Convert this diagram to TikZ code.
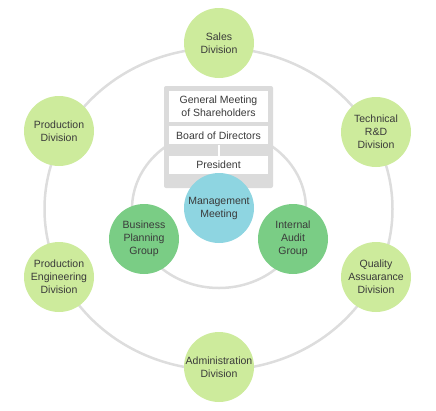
\documentclass[tikz,border=0pt]{standalone}
\usepackage{fontspec}
\setmainfont{Liberation Sans}
\usetikzlibrary{positioning}
\definecolor{divgreen}{HTML}{CDEB9C}
\definecolor{groupgreen}{HTML}{7ACD85}
\definecolor{meetblue}{HTML}{8ED5E1}
\definecolor{panelgray}{HTML}{DBDBDB}
\definecolor{ringgray}{HTML}{DDDDDD}
\definecolor{ink}{HTML}{3A3A3A}

\begin{document}
\begin{tikzpicture}[x=1pt, y=-1pt, node distance=4pt,
	unit/.style = {circle, minimum size=70pt, inner sep=0pt, align=center, text=ink, font=\fontsize{10.5}{13}\selectfont},
	division/.style = {unit, fill=divgreen},
	group/.style = {unit, fill=groupgreen},
	meeting/.style = {unit, fill=meetblue},
	organ/.style = {fill=white, minimum width=99pt, inner sep=0pt, align=center, text=ink, font=\fontsize{10.5}{13}\selectfont},
	ring/.style = {draw=ringgray, line width=2.5pt}]
			\useasboundingbox (0,0) rectangle (436,410);
			% rings
			\draw[ring] (218.5,209) ellipse [x radius=174pt, y radius=161pt];
			\draw[ring] (219,209) ellipse [x radius=87pt, y radius=79pt];
			% governance panel
			\node[fill=panelgray, minimum width=109pt, minimum height=102pt, inner sep=0pt, rounded corners=2pt] (panel) at (218.5,137) {};
			\node[organ, minimum height=31pt] (gm) at (218.5,106.5) {General Meeting\\of Shareholders};
			\node[organ, minimum height=18pt, below=of gm] (board) {Board of Directors};
			\node[organ, minimum height=18pt, below=11pt of board] (pres) {President};
			\draw[white, line width=2pt] (board) -- (pres);
			% divisions
			\node[division] (sales) at (219,43) {Sales\\Division};
			\node[division] (prod) at (59,131) {Production\\Division};
			\node[division] (tech) at (376,132) {Technical\\R\&D\\Division};
			\node[division] (prodeng) at (59,277) {Production\\Engineering\\Division};
			\node[division] (quality) at (376,277) {Quality\\Assuarance\\Division};
			\node[division] (admin) at (219,367) {Administration\\Division};
			% groups
			\node[group] (planning) at (144,239) {Business\\Planning\\Group};
			\node[group] (audit) at (293,239) {Internal\\Audit\\Group};
			\node[meeting] (mgmt) at (219,208) {Management\\Meeting};
		\end{tikzpicture}
\end{document}
